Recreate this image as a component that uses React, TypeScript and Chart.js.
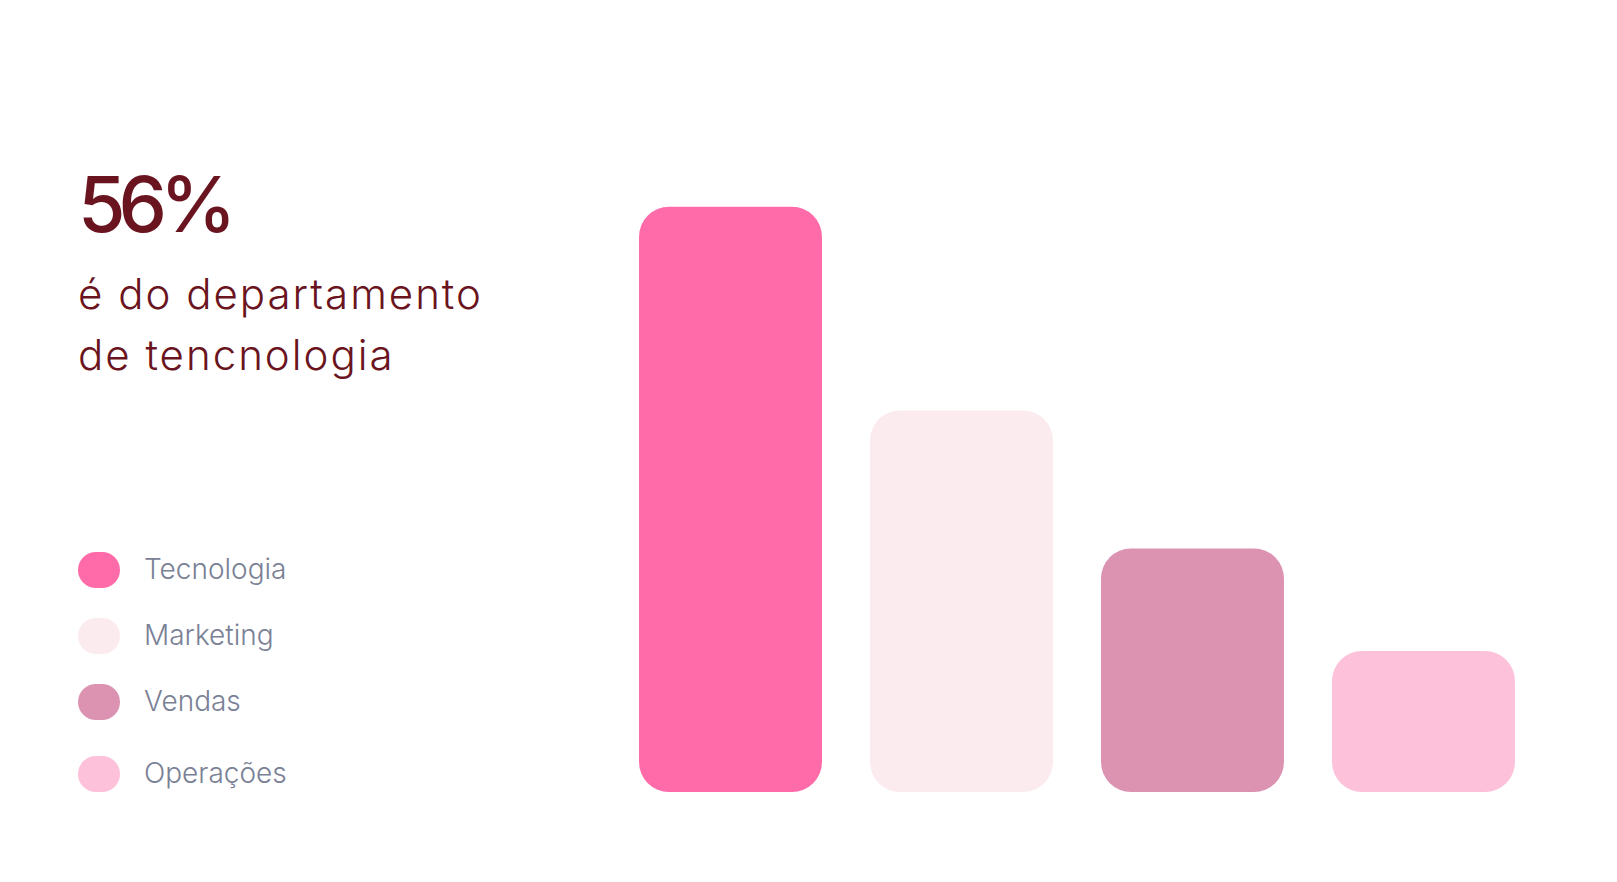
import React, { useEffect, useRef } from "react";
import { Chart, registerables } from "chart.js";

Chart.register(...registerables);

// department share chart: headline + legend on the left, rounded bars on the right

const categories = ["Tecnologia", "Marketing", "Vendas", "Operações"];
const values = [56, 36.5, 23.3, 13.5];
const barColors = ["#FF6BA8", "#FCEBEE", "#DC93B2", "#FDC1D9"];

const headline = "56%";
const subtitleLines = ["é do departamento", "de tencnologia"];

const legendTops = [552, 618, 684, 756];

export default function App() {
  const canvasRef = useRef<HTMLCanvasElement>(null);
  const chartRef = useRef<Chart | null>(null);

  useEffect(() => {
    if (!canvasRef.current) return;
    const ctx = canvasRef.current.getContext("2d");
    if (!ctx) return;

    if (chartRef.current) {
      chartRef.current.destroy();
      chartRef.current = null;
    }

    chartRef.current = new Chart(ctx, {
      type: "bar",
      data: {
        labels: categories,
        datasets: [
          {
            data: values,
            backgroundColor: barColors,
            borderRadius: 30,
            borderSkipped: false,
            barPercentage: 0.792,
            categoryPercentage: 1,
          },
        ],
      },
      options: {
        animation: false,
        responsive: false,
        maintainAspectRatio: false,
        layout: { padding: 0 },
        plugins: {
          legend: { display: false },
          tooltip: { enabled: false },
        },
        scales: {
          x: { display: false },
          y: { display: false, min: 0, max: 60 },
        },
      },
    });

    return () => {
      if (chartRef.current) {
        chartRef.current.destroy();
        chartRef.current = null;
      }
    };
  }, []);

  const textFont = "Inter, 'Noto Sans', sans-serif";

  return (
    <div
      style={{
        position: "fixed",
        left: 0,
        top: 0,
        width: 1617,
        height: 882,
        background: "#ffffff",
        fontFamily: textFont,
        overflow: "hidden",
      }}
    >
      <div
        style={{
          position: "absolute",
          left: 78,
          top: 166,
          fontSize: 77,
          lineHeight: "77px",
          fontWeight: 500,
          letterSpacing: -7,
          color: "#6A1420",
        }}
      >
        {headline}
      </div>
      <div
        style={{
          position: "absolute",
          left: 78,
          top: 263,
          fontSize: 42,
          lineHeight: "61px",
          fontWeight: 300,
          letterSpacing: 2,
          color: "#6A1420",
          whiteSpace: "nowrap",
        }}
      >
        {subtitleLines.map((l) => (
          <div key={l}>{l}</div>
        ))}
      </div>

      {categories.map((c, i) => (
        <div
          key={c}
          style={{
            position: "absolute",
            left: 78,
            top: legendTops[i],
            height: 36,
            display: "flex",
            alignItems: "center",
          }}
        >
          <span
            style={{
              display: "inline-block",
              width: 42,
              height: 36,
              borderRadius: 18,
              background: barColors[i],
            }}
          />
          <span
            style={{
              marginLeft: 24,
              marginTop: -2,
              fontSize: 28,
              fontWeight: 300,
              color: "#7A8196",
              whiteSpace: "nowrap",
            }}
          >
            {c}
          </span>
        </div>
      ))}

      <canvas
        ref={canvasRef}
        width={924}
        height={627}
        style={{
          position: "absolute",
          left: 615,
          top: 165,
          width: 924,
          height: 627,
        }}
      />
    </div>
  );
}
